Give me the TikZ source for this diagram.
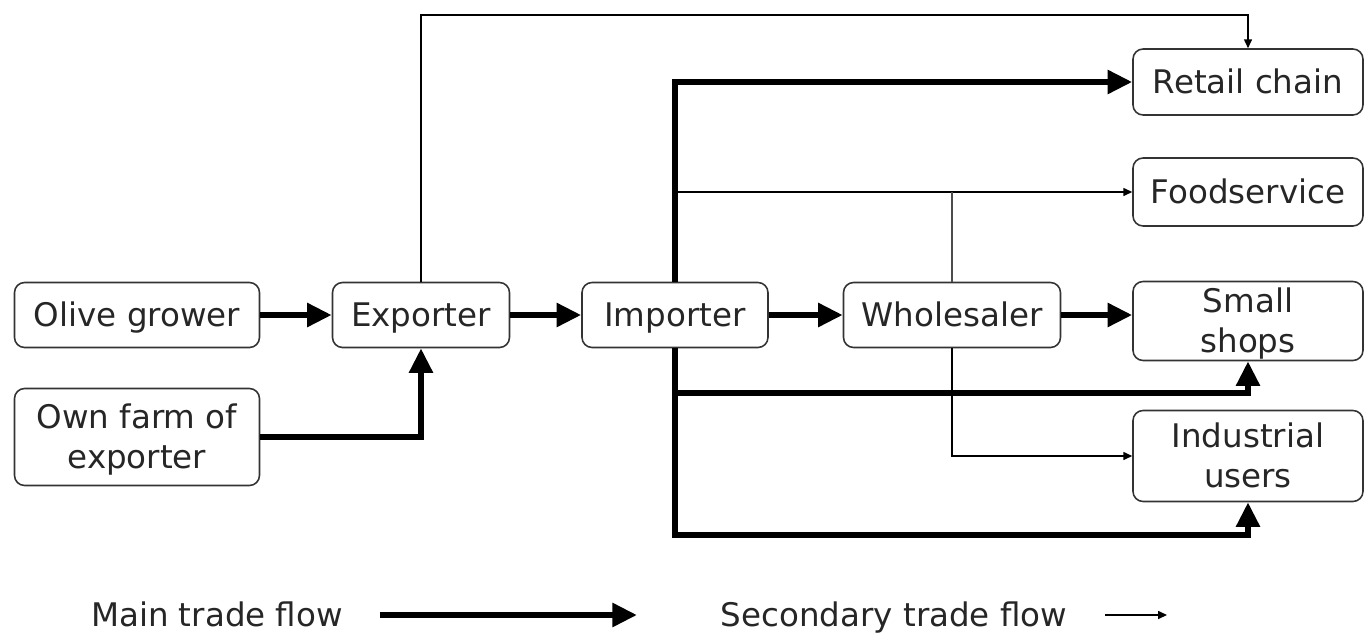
\documentclass[tikz,border=0pt]{standalone}
\usepackage{fontspec}
\setmainfont{DejaVu Sans}
\usetikzlibrary{arrows.meta}

\tikzset{
  box/.style={draw=black!80, line width=0.9pt, rounded corners=0.2cm, align=center,
              font=\fontsize{18.5}{22.7}\selectfont, text=black!85, inner sep=0pt,
              text height=13.5pt, text depth=0pt},
  twolines/.style={text height=36.2pt},
  mainflow/.style={line width=3.4pt, -{Triangle[length=14pt,width=13pt]}},
  secflow/.style={line width=0.7pt, -{Triangle[length=5pt,width=4.5pt]}},
  secline/.style={line width=0.7pt, black!70},
  legendtext/.style={font=\fontsize{18.5}{22.7}\selectfont, text=black!85,
                     inner sep=0pt, text height=13.5pt, text depth=0pt}
}

\begin{document}
\begin{tikzpicture}[x=0.02cm, y=-0.02cm]
\useasboundingbox (0,0) rectangle (1370,636);

% boxes
\node[box, minimum width=4.9cm, minimum height=1.3cm]  (grower) at (137,315) {Olive grower};
\node[box, twolines, minimum width=4.9cm, minimum height=1.94cm] (farm) at (137,437) {Own farm of\\exporter};
\node[box, minimum width=3.54cm, minimum height=1.3cm] (exp)    at (421,315) {Exporter};
\node[box, minimum width=3.72cm, minimum height=1.3cm] (imp)    at (675,315) {Importer};
\node[box, minimum width=4.34cm, minimum height=1.3cm] (whs)    at (952,315) {Wholesaler};

\node[box, minimum width=4.6cm, minimum height=1.32cm] (retail) at (1248,82)  {Retail chain};
\node[box, minimum width=4.6cm, minimum height=1.36cm] (food)   at (1248,192) {Foodservice};
\node[box, twolines, minimum width=4.6cm, minimum height=1.58cm] (shops) at (1248,321) {Small\\shops};
\node[box, twolines, minimum width=4.6cm, minimum height=1.82cm] (ind)   at (1248,456) {Industrial\\users};

% bend points
\coordinate (ctop)  at (421,15);
\coordinate (cshop) at (675,393);
\coordinate (cind)  at (675,535);

% main flows
\draw[mainflow] (grower) -- (exp);
\draw[mainflow] (farm.east) -| (exp.south);
\draw[mainflow] (exp) -- (imp);
\draw[mainflow] (imp) -- (whs);
\draw[mainflow] (whs.east) -- (shops.west |- whs.east);
\draw[mainflow] (imp.north) |- (retail.west);
\draw[mainflow] (imp.south) -- (cshop) -| (shops.south);
\draw[mainflow] (imp.south) -- (cind) -| (ind.south);

% secondary flows
\draw[secflow] (exp.north) -- (ctop) -| (retail.north);
\draw[secflow] (imp.north |- food.west) -- (food.west);
\draw[secline] (whs.north) -- (whs.north |- food.west);
\draw[secflow] (whs.south) |- (ind.west);

% legend
\node[legendtext] (lmain) at (217,615) {Main trade flow};
\coordinate (lmaina) at (380,615);
\coordinate (lmainb) at (637,615);
\draw[mainflow] (lmaina) -- (lmainb);
\node[legendtext] (lsec) at (894,615) {Secondary trade flow};
\coordinate (lseca) at (1105,615);
\coordinate (lsecb) at (1167,615);
\draw[secflow] (lseca) -- (lsecb);

\end{tikzpicture}
\end{document}
